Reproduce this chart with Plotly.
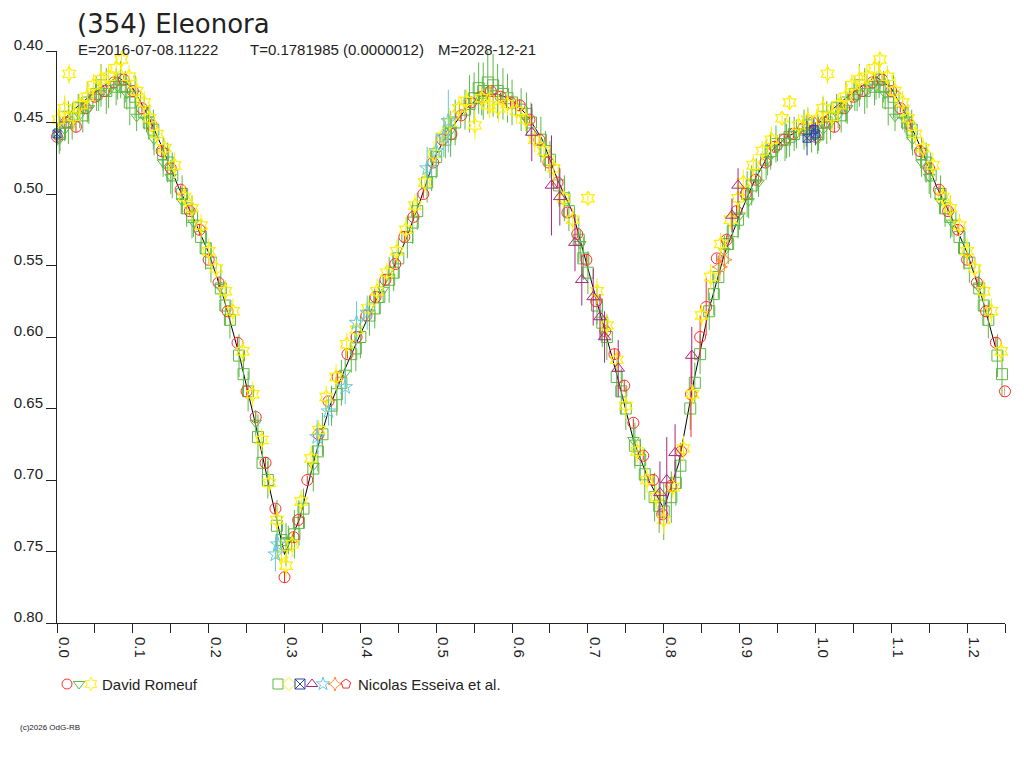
import plotly.graph_objects as go

# ---- lightcurve data (phase, relative magnitude, error) ----

# black model curve
fit_phase = [0.00, 0.02, 0.04, 0.06, 0.08, 0.10, 0.12, 0.14, 0.16, 0.18,
             0.20, 0.22, 0.24, 0.26, 0.28, 0.30, 0.32, 0.34, 0.36, 0.38,
             0.40, 0.42, 0.44, 0.46, 0.48, 0.50, 0.52, 0.54, 0.56, 0.58,
             0.60, 0.62, 0.64, 0.66, 0.68, 0.70, 0.72, 0.74, 0.76, 0.78,
             0.80, 0.82, 0.84, 0.86, 0.88, 0.90, 0.92, 0.94, 0.96, 0.98, 1.00]
fit_mag = [0.453, 0.442, 0.433, 0.425, 0.418, 0.426, 0.445, 0.469, 0.495, 0.517,
           0.541, 0.573, 0.612, 0.657, 0.705, 0.752, 0.727, 0.684, 0.648, 0.622,
           0.598, 0.575, 0.556, 0.532, 0.503, 0.472, 0.454, 0.440, 0.431, 0.430,
           0.434, 0.445, 0.462, 0.490, 0.513, 0.552, 0.590, 0.630, 0.672, 0.700,
           0.720, 0.688, 0.630, 0.580, 0.542, 0.515, 0.490, 0.471, 0.461, 0.455, 0.452]

# David Romeuf - red circles
dr1_phase = [0.000, 0.012, 0.025, 0.038, 0.050, 0.062, 0.075, 0.088, 0.100, 0.112,
             0.125, 0.138, 0.150, 0.163, 0.175, 0.188, 0.200, 0.213, 0.225, 0.238,
             0.250, 0.262, 0.275, 0.288, 0.300, 0.312, 0.318, 0.330, 0.345, 0.358,
             0.370, 0.383, 0.395, 0.408, 0.420, 0.433, 0.446, 0.458, 0.470, 0.483,
             0.496, 0.508, 0.520, 0.533, 0.546, 0.560, 0.572, 0.585, 0.598, 0.610,
             0.623, 0.636, 0.648, 0.660, 0.673, 0.686, 0.698, 0.711, 0.723, 0.735,
             0.748, 0.760, 0.773, 0.786, 0.798, 0.810, 0.823, 0.836, 0.848, 0.856,
             0.870, 0.883, 0.896, 0.908, 0.921, 0.934, 0.946, 0.959, 0.971, 0.984,
             0.996]
dr1_mag = [0.460, 0.450, 0.453, 0.440, 0.432, 0.428, 0.422, 0.420, 0.428, 0.440,
           0.452, 0.470, 0.482, 0.497, 0.512, 0.525, 0.546, 0.562, 0.582, 0.604,
           0.638, 0.656, 0.688, 0.720, 0.768, 0.740, 0.728, 0.700, 0.668, 0.645,
           0.628, 0.612, 0.600, 0.585, 0.572, 0.560, 0.549, 0.530, 0.516, 0.500,
           0.478, 0.462, 0.458, 0.445, 0.436, 0.432, 0.428, 0.432, 0.436, 0.438,
           0.448, 0.462, 0.478, 0.492, 0.513, 0.528, 0.546, 0.575, 0.596, 0.612,
           0.634, 0.660, 0.683, 0.700, 0.724, 0.704, 0.680, 0.640, 0.600, 0.579,
           0.545, 0.532, 0.512, 0.500, 0.490, 0.478, 0.467, 0.462, 0.458, 0.454,
           0.450]
dr1_err = [0.003, 0.003, 0.004, 0.003, 0.003, 0.003, 0.004, 0.003, 0.003, 0.003,
           0.003, 0.004, 0.003, 0.003, 0.003, 0.004, 0.003, 0.003, 0.003, 0.004,
           0.003, 0.003, 0.004, 0.003, 0.004, 0.004, 0.003, 0.003, 0.003, 0.003,
           0.003, 0.003, 0.004, 0.003, 0.003, 0.003, 0.003, 0.004, 0.003, 0.003,
           0.003, 0.004, 0.003, 0.003, 0.003, 0.004, 0.003, 0.003, 0.003, 0.004,
           0.003, 0.003, 0.004, 0.003, 0.003, 0.003, 0.004, 0.003, 0.003, 0.004,
           0.004, 0.003, 0.003, 0.004, 0.003, 0.004, 0.003, 0.030, 0.015, 0.020,
           0.003, 0.003, 0.004, 0.003, 0.003, 0.003, 0.004, 0.003, 0.003, 0.003,
           0.003]

# David Romeuf - green down triangles
dr2_phase = [0.003, 0.010, 0.020, 0.030, 0.042, 0.055, 0.068, 0.080, 0.092, 0.105,
             0.118, 0.128, 0.140, 0.150, 0.165, 0.180, 0.215, 0.262, 0.305, 0.338,
             0.380, 0.430, 0.520, 0.560, 0.620, 0.690, 0.760, 0.880, 0.900, 0.912,
             0.925, 0.937, 0.950, 0.962, 0.975, 0.988]
dr2_mag = [0.462, 0.455, 0.450, 0.445, 0.440, 0.432, 0.428, 0.425, 0.430, 0.446,
           0.448, 0.462, 0.478, 0.488, 0.505, 0.520, 0.565, 0.660, 0.742, 0.690,
           0.625, 0.567, 0.455, 0.435, 0.448, 0.535, 0.672, 0.540, 0.515, 0.505,
           0.492, 0.476, 0.468, 0.463, 0.458, 0.456]
dr2_err = [0.010, 0.008, 0.012, 0.009, 0.011, 0.010, 0.012, 0.009, 0.011, 0.010,
           0.009, 0.011, 0.010, 0.012, 0.009, 0.010, 0.008, 0.009, 0.010, 0.009,
           0.010, 0.009, 0.008, 0.010, 0.009, 0.010, 0.009, 0.011, 0.010, 0.012,
           0.010, 0.011, 0.009, 0.012, 0.010, 0.011]

# David Romeuf - yellow stars
dr3_phase = [0.002, 0.010, 0.016, 0.022, 0.030, 0.040, 0.048, 0.058, 0.068, 0.078,
             0.085, 0.095, 0.105, 0.115, 0.122, 0.132, 0.142, 0.155, 0.168, 0.178,
             0.190, 0.200, 0.210, 0.222, 0.232, 0.245, 0.258, 0.270, 0.280, 0.290,
             0.296, 0.302, 0.310, 0.322, 0.335, 0.345, 0.355, 0.368, 0.382, 0.395,
             0.410, 0.422, 0.435, 0.448, 0.460, 0.472, 0.485, 0.497, 0.508, 0.518,
             0.530, 0.540, 0.551, 0.560, 0.570, 0.582, 0.594, 0.606, 0.618, 0.630,
             0.642, 0.655, 0.668, 0.680, 0.700, 0.712, 0.725, 0.738, 0.750, 0.765,
             0.778, 0.790, 0.800, 0.812, 0.826, 0.838, 0.850, 0.862, 0.875, 0.888,
             0.898, 0.905, 0.918, 0.930, 0.942, 0.956, 0.966, 0.978, 0.990]
dr3_mag = [0.448, 0.440, 0.416, 0.446, 0.438, 0.432, 0.424, 0.420, 0.418, 0.412,
           0.406, 0.418, 0.428, 0.436, 0.447, 0.458, 0.468, 0.480, 0.502, 0.510,
           0.522, 0.540, 0.552, 0.568, 0.582, 0.610, 0.640, 0.672, 0.702, 0.728,
           0.752, 0.760, 0.745, 0.715, 0.685, 0.665, 0.642, 0.628, 0.605, 0.595,
           0.580, 0.568, 0.555, 0.540, 0.525, 0.508, 0.492, 0.472, 0.460, 0.450,
           0.440, 0.435, 0.452, 0.433, 0.438, 0.440, 0.437, 0.442, 0.448, 0.462,
           0.470, 0.482, 0.503, 0.518, 0.503, 0.568, 0.592, 0.616, 0.648, 0.680,
           0.700, 0.712, 0.728, 0.705, 0.678, 0.640, 0.585, 0.558, 0.535, 0.518,
           0.503, 0.492, 0.480, 0.470, 0.462, 0.447, 0.436, 0.452, 0.448]
dr3_err = [0.008, 0.009, 0.007, 0.010, 0.008, 0.009, 0.008, 0.010, 0.009, 0.008,
           0.009, 0.008, 0.010, 0.008, 0.009, 0.008, 0.007, 0.009, 0.008, 0.009,
           0.008, 0.009, 0.007, 0.008, 0.009, 0.008, 0.009, 0.008, 0.007, 0.009,
           0.010, 0.008, 0.009, 0.008, 0.009, 0.007, 0.008, 0.009, 0.008, 0.007,
           0.008, 0.009, 0.007, 0.008, 0.009, 0.008, 0.007, 0.009, 0.008, 0.010,
           0.009, 0.008, 0.010, 0.008, 0.009, 0.010, 0.008, 0.009, 0.008, 0.009,
           0.008, 0.009, 0.007, 0.008, 0.004, 0.009, 0.008, 0.007, 0.009, 0.008,
           0.009, 0.008, 0.010, 0.008, 0.009, 0.007, 0.008, 0.009, 0.008, 0.007,
           0.008, 0.009, 0.008, 0.007, 0.009, 0.004, 0.004, 0.008, 0.009]

# Nicolas Esseiva et al. - green squares
ne1_phase = [0.004, 0.015, 0.028, 0.040, 0.052, 0.065, 0.078, 0.090, 0.103, 0.115,
             0.127, 0.140, 0.152, 0.165, 0.178, 0.190, 0.203, 0.216, 0.228, 0.240,
             0.252, 0.265, 0.278, 0.290, 0.302, 0.313, 0.325, 0.338, 0.350, 0.362,
             0.375, 0.388, 0.400, 0.412, 0.425, 0.438, 0.450, 0.462, 0.475, 0.488,
             0.500, 0.512, 0.525, 0.538, 0.550, 0.562, 0.575, 0.588, 0.600, 0.612,
             0.625, 0.638, 0.650, 0.662, 0.675, 0.688, 0.700, 0.712, 0.725, 0.738,
             0.750, 0.762, 0.775, 0.788, 0.800, 0.810, 0.822, 0.835, 0.848, 0.860,
             0.872, 0.885, 0.898, 0.910, 0.922, 0.935, 0.948, 0.960, 0.972, 0.985,
             0.995,
             0.010, 0.034, 0.058, 0.084, 0.096, 0.121, 0.146, 0.171, 0.196, 0.222,
             0.246, 0.271, 0.296, 0.319, 0.344, 0.369, 0.394, 0.419, 0.444, 0.469,
             0.494, 0.519, 0.544, 0.556, 0.568, 0.581, 0.594, 0.619, 0.644, 0.669,
             0.694, 0.719, 0.744, 0.769, 0.794, 0.816, 0.841, 0.866, 0.891, 0.916,
             0.941, 0.966, 0.990]
ne1_mag = [0.458, 0.450, 0.440, 0.436, 0.430, 0.428, 0.425, 0.425, 0.432, 0.443,
           0.455, 0.472, 0.487, 0.500, 0.516, 0.530, 0.548, 0.566, 0.588, 0.613,
           0.638, 0.670, 0.700, 0.732, 0.745, 0.738, 0.720, 0.692, 0.668, 0.648,
           0.632, 0.612, 0.600, 0.585, 0.572, 0.560, 0.545, 0.530, 0.512, 0.492,
           0.474, 0.462, 0.450, 0.441, 0.433, 0.428, 0.424, 0.430, 0.436, 0.441,
           0.450, 0.462, 0.476, 0.494, 0.512, 0.532, 0.555, 0.578, 0.600, 0.628,
           0.650, 0.676, 0.696, 0.712, 0.722, 0.712, 0.690, 0.650, 0.612, 0.582,
           0.558, 0.535, 0.518, 0.500, 0.487, 0.476, 0.465, 0.462, 0.458, 0.455,
           0.458,
           0.446, 0.445, 0.424, 0.420, 0.436, 0.450, 0.478, 0.510, 0.538, 0.578,
           0.626, 0.688, 0.742, 0.730, 0.680, 0.640, 0.608, 0.580, 0.555, 0.520,
           0.484, 0.458, 0.437, 0.426, 0.422, 0.428, 0.433, 0.444, 0.470, 0.503,
           0.545, 0.590, 0.638, 0.686, 0.718, 0.702, 0.632, 0.570, 0.526, 0.494,
           0.470, 0.460, 0.452]
ne1_err = [0.012, 0.015, 0.010, 0.014, 0.012, 0.016, 0.013, 0.011, 0.015, 0.012,
           0.014, 0.012, 0.016, 0.013, 0.015, 0.012, 0.014, 0.016, 0.013, 0.015,
           0.014, 0.016, 0.013, 0.018, 0.015, 0.017, 0.014, 0.016, 0.015, 0.014,
           0.016, 0.013, 0.015, 0.014, 0.012, 0.016, 0.014, 0.015, 0.013, 0.014,
           0.015, 0.013, 0.016, 0.014, 0.018, 0.020, 0.022, 0.018, 0.016, 0.015,
           0.014, 0.016, 0.013, 0.015, 0.014, 0.016, 0.015, 0.013, 0.016, 0.014,
           0.015, 0.016, 0.018, 0.017, 0.020, 0.018, 0.016, 0.015, 0.014, 0.013,
           0.015, 0.014, 0.013, 0.016, 0.012, 0.014, 0.013, 0.015, 0.012, 0.014,
           0.013,
           0.014, 0.012, 0.015, 0.013, 0.016, 0.012, 0.014, 0.013, 0.015, 0.014,
           0.016, 0.015, 0.017, 0.016, 0.014, 0.015, 0.016, 0.014, 0.013, 0.015,
           0.014, 0.016, 0.020, 0.018, 0.022, 0.019, 0.017, 0.015, 0.014, 0.016,
           0.015, 0.017, 0.016, 0.015, 0.019, 0.016, 0.014, 0.015, 0.013, 0.014,
           0.013, 0.014, 0.012]

# Nicolas Esseiva et al. - purple triangles
ne2_phase = [0.626, 0.652, 0.663, 0.683, 0.692, 0.707, 0.716, 0.722, 0.740, 0.795,
             0.804, 0.815, 0.837, 0.890, 0.898]
ne2_mag = [0.457, 0.494, 0.502, 0.534, 0.560, 0.572, 0.586, 0.600, 0.622, 0.709,
           0.700, 0.681, 0.613, 0.515, 0.494]
ne2_err = [0.020, 0.035, 0.020, 0.020, 0.018, 0.020, 0.016, 0.018, 0.020, 0.022,
           0.030, 0.020, 0.020, 0.012, 0.012]

# Nicolas Esseiva et al. - cyan stars
ne3_phase = [0.288, 0.291, 0.343, 0.358, 0.380, 0.395, 0.409, 0.488, 0.500, 0.510, 0.516]
ne3_mag = [0.752, 0.745, 0.670, 0.652, 0.635, 0.590, 0.583, 0.482, 0.470, 0.460, 0.449]
ne3_err = [0.012, 0.010, 0.012, 0.010, 0.012, 0.015, 0.012, 0.015, 0.012, 0.014, 0.022]

# Nicolas Esseiva et al. - blue, orange, yellow diamond
ne4_phase = [0.000, 0.989, 0.998]
ne4_mag = [0.458, 0.461, 0.455]
ne4_err = [0.008, 0.012, 0.008]
ne5_phase = [0.874, 0.880]
ne5_mag = [0.551, 0.546]
ne5_err = [0.010, 0.008]
ne6_phase = [0.571]
ne6_mag = [0.434]
ne6_err = [0.010]

y_ticks = [0.40, 0.45, 0.50, 0.55, 0.60, 0.65, 0.70, 0.75, 0.80]

FONT = "Liberation Sans, Arial, sans-serif"
TITLE_FONT = "DejaVu Sans, Arial, sans-serif"
INK = "#222222"

RED = "#ff2a2a"
GREEN = "#5cb844"
YELLOW = "#ffee00"
PURPLE = "#a8277f"
CYAN = "#66c8e0"
BLUE = "#2a44b0"
ORANGE = "#ff8a2a"


def wrap(ph, mg, er=None):
    """repeat the first quarter of the phase beyond 1.0"""
    x, y = list(ph), list(mg)
    e = list(er) if er is not None else None
    for i, p in enumerate(ph):
        if p <= 0.25:
            x.append(p + 1.0)
            y.append(mg[i])
            if e is not None:
                e.append(er[i])
    return x, y, e


def series(ph, mg, er, symbol, color, size=10, lw=1):
    x, y, e = wrap(ph, mg, er)
    return go.Scatter(x=x, y=y, mode='markers',
                      marker=dict(symbol=symbol, size=size, color=color,
                                  line=dict(width=lw, color=color)),
                      error_y=dict(type='data', array=e, color=color,
                                   thickness=1, width=0),
                      cliponaxis=False, showlegend=False, hoverinfo='skip')


fig = go.Figure()

fx, fy, _ = wrap(fit_phase, fit_mag)
fig.add_trace(go.Scatter(x=fx, y=fy, mode='lines', line=dict(color='black', width=1),
                         showlegend=False, hoverinfo='skip'))

fig.add_trace(series(ne1_phase, ne1_mag, ne1_err, 'square-open', GREEN, 11))
fig.add_trace(series(dr1_phase, dr1_mag, dr1_err, 'circle-open', RED, 11))
fig.add_trace(series(dr2_phase, dr2_mag, dr2_err, 'triangle-down-open', GREEN, 10))
fig.add_trace(series(dr3_phase, dr3_mag, dr3_err, 'hexagram-open', YELLOW, 11, 1.2))
fig.add_trace(series(ne6_phase, ne6_mag, ne6_err, 'diamond-open', YELLOW, 11))
fig.add_trace(series(ne4_phase, ne4_mag, ne4_err, 'square-x-open', BLUE, 8))
fig.add_trace(series(ne2_phase, ne2_mag, ne2_err, 'triangle-up-open', PURPLE, 11))
fig.add_trace(series(ne3_phase, ne3_mag, ne3_err, 'star-open', CYAN, 11))
fig.add_trace(series(ne5_phase, ne5_mag, ne5_err, 'star-diamond-open', ORANGE, 11))

# hand made legend row, drawn on a hidden helper axis below the plot
leg_groups = [
    ("David Romeuf", [('circle-open', RED), ('triangle-down-open', GREEN), ('hexagram-open', YELLOW)],
     [67, 79, 91], 100),
    ("Nicolas Esseiva et al.",
     [('square-open', GREEN), ('diamond-open', YELLOW), ('square-x-open', BLUE),
      ('triangle-up-open', PURPLE), ('star-open', CYAN), ('star-diamond-open', ORANGE),
      ('pentagon-open', RED)],
     [278, 289, 300, 312, 323, 335, 346], 356),
]
for name, syms, xs, tx in leg_groups:
    for (sym, col), xx in zip(syms, xs):
        fig.add_trace(go.Scatter(x=[xx], y=[0.5], xaxis='x2', yaxis='y2', mode='markers',
                                 marker=dict(symbol=sym, size=10, color=col,
                                             line=dict(width=1, color=col)),
                                 cliponaxis=False, showlegend=False, hoverinfo='skip'))
    fig.add_annotation(x=tx, y=0.5, xref='x2', yref='y2', text=name, showarrow=False,
                       xanchor='left', yanchor='middle',
                       font=dict(family=FONT, size=15, color=INK))

# title and header line
fig.add_annotation(x=0, y=1, xref='paper', yref='paper', xshift=18, yshift=27,
                   text="(354) Eleonora", showarrow=False, xanchor='left', yanchor='middle',
                   font=dict(family=TITLE_FONT, size=26, color=INK))
for txt, px in [("E=2016-07-08.11222", 19), ("T=0.1781985 (0.0000012)", 191),
                ("M=2028-12-21", 379)]:
    fig.add_annotation(x=0, y=1, xref='paper', yref='paper', xshift=px, yshift=2,
                       text=txt, showarrow=False, xanchor='left', yanchor='middle',
                       font=dict(family=FONT, size=15, color=INK))

fig.add_annotation(x=0, y=0.03, xref='paper', yref='paper', xshift=-39,
                   text="(c)2026 OdG-RB", showarrow=False, xanchor='left', yanchor='middle',
                   font=dict(family=FONT, size=8, color=INK))

# the page body adds an 8px offset, so the figure is 8px smaller on each side
fig.update_layout(
    width=1016, height=760,
    margin=dict(l=49, r=19, t=43, b=20),
    paper_bgcolor='white', plot_bgcolor='white',
    font=dict(family=FONT, size=15, color=INK),
    showlegend=False,
    xaxis=dict(domain=[0, 1], range=[0, 1.25], anchor='y', automargin=False,
               tick0=0, dtick=0.1, tickformat='.1f',
               ticks='outside', ticklen=9, tickcolor=INK, tickwidth=1,
               minor=dict(tick0=0, dtick=0.05, ticks='outside', ticklen=9,
                          tickcolor=INK, tickwidth=1),
               tickangle=90, ticklabelshift=7, ticklabelstandoff=1,
               showline=True, linecolor=INK, linewidth=1,
               showgrid=False, zeroline=False),
    yaxis=dict(domain=[125 / 697, 1], range=[0.80, 0.40], anchor='x', automargin=False,
               tickvals=y_ticks, tickformat='.2f',
               ticks='outside', ticklen=10, tickcolor=INK, tickwidth=1,
               ticklabelshift=6, ticklabelstandoff=0,
               showline=True, linecolor=INK, linewidth=1,
               showgrid=False, zeroline=False),
    xaxis2=dict(domain=[0, 1], range=[57, 1005], anchor='y2', visible=False,
                automargin=False),
    yaxis2=dict(domain=[44 / 697, 84 / 697], range=[0, 1], anchor='x2', visible=False,
                automargin=False),
)

fig.write_html("out.html")
